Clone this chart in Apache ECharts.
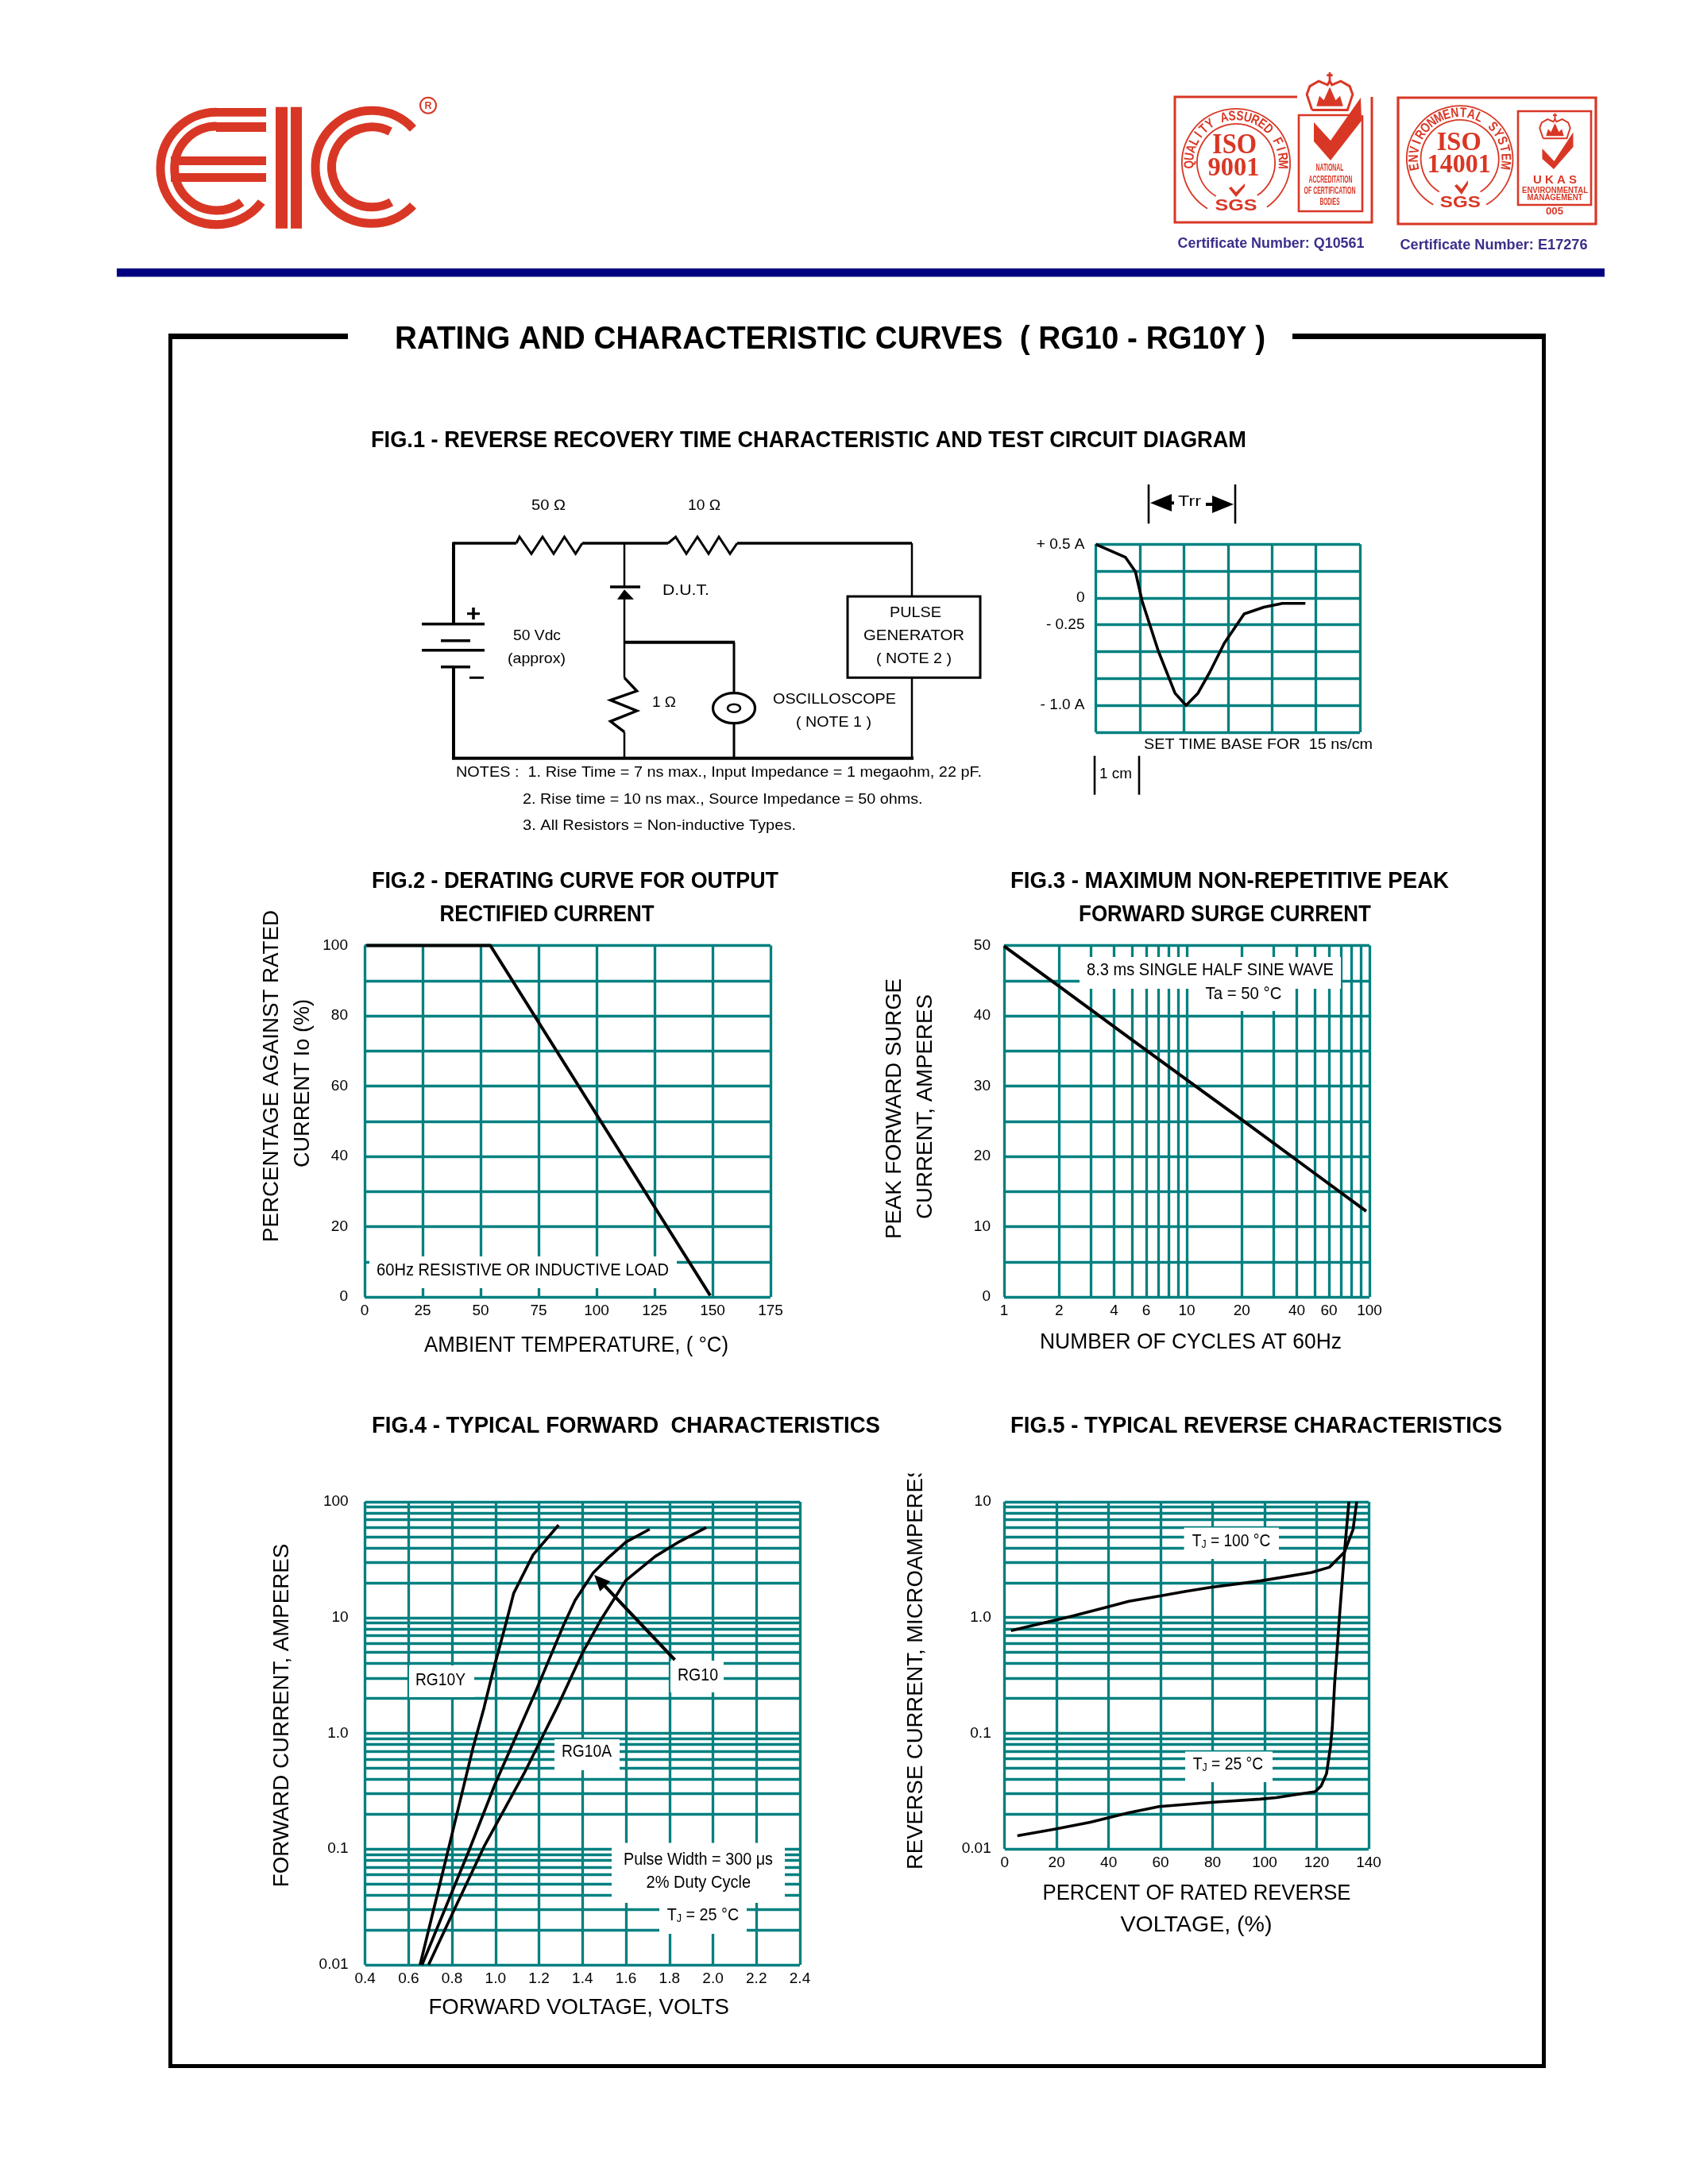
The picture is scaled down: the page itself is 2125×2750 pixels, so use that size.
<!DOCTYPE html>
<html><head><meta charset="utf-8">
<style>html,body{margin:0;padding:0;background:#fff}#c{width:2125px;height:2750px}</style>
<script src="https://cdn.jsdelivr.net/npm/echarts@6/dist/echarts.min.js"></script>
</head><body><div id="c"></div>
<script>
// ---------- DATA ----------
const scopeTime   = [0,0.67,0.90,1.05,1.42,1.80,2.05,2.32,2.59,2.92,3.37,3.82,4.24,4.76];
const scopeAmp    = [0.5,0.38,0.245,-0.026,-0.494,-0.887,-1.0,-0.887,-0.69,-0.42,-0.148,-0.086,-0.05,-0.05];
const scopeTickLabels = {'0.5':'+ 0.5 A','0':'0','-0.25':'- 0.25','-1':'- 1.0 A'};

const fig2Temp    = [0.8,54.2,149];
const fig2Percent = [100,100,0.4];

const fig3Cycles  = [1,2,5,10,20,50,96];
const fig3Current = [49.9,44.2,36.6,30.9,25.2,17.6,12.2];
const fig3XGrid   = [1,2,3,4,5,6,7,8,9,10,20,30,40,50,60,70,80,90,100];
const fig3XLabels = [1,2,4,6,10,20,40,60,100];

const fig4YGrid   = [0.01,0.02,0.03,0.04,0.05,0.06,0.07,0.08,0.09,0.1,0.2,0.3,0.4,0.5,0.6,0.7,0.8,0.9,1,2,3,4,5,6,7,8,9,10,20,30,40,50,60,70,80,90,100];
const fig4YLabels = [0.01,0.1,1,10,100];
const rg10yV = [0.653,0.786,0.896,0.947,0.988,1.047,1.084,1.173,1.29];
const rg10yI = [0.01,0.105,0.745,1.66,3.42,8.79,16.3,34.9,63];
const rg10V  = [0.662,0.879,0.997,1.181,1.315,1.366,1.449,1.516,1.6,1.709];
const rg10I  = [0.01,0.098,0.361,2.21,8.79,14.1,24.3,32.5,45,58];
const rg10aV = [0.692,0.812,0.947,1.131,1.282,1.399,1.483,1.6,1.734,1.843,1.969];
const rg10aI = [0.01,0.0305,0.105,0.449,1.66,4.92,9.46,21,33.7,45,60];

const fig5YGrid   = [0.01,0.02,0.03,0.04,0.05,0.06,0.07,0.08,0.09,0.1,0.2,0.3,0.4,0.5,0.6,0.7,0.8,0.9,1,2,3,4,5,6,7,8,9,10];
const fig5YLabels = [0.01,0.1,1,10];
const tj100Pct = [2.45,17.9,24.7,38.3,47.8,59.4,69.7,79.2,98.3,118,124.9,130.7,134,135.4];
const tj100I   = [0.77,0.929,1.01,1.21,1.38,1.53,1.68,1.82,2.07,2.45,2.72,3.68,5.77,10];
const tj25Pct  = [4.9,19.2,32.9,47.8,59.4,79.2,98.3,104.4,119.4,121.7,123.8,125.3,126,126.9,129,130.7,132.4];
const tj25I    = [0.013,0.0148,0.017,0.0205,0.0232,0.0252,0.0269,0.0277,0.0312,0.0349,0.0448,0.0762,0.111,0.266,1.19,3.68,10];

// ---------- HELPERS ----------
const TEAL='#008080', RED='#d93725', NAVY='#000080', CERT='#3a2f8c', FONT='"Liberation Sans", Arial, sans-serif', SERIF='"Liberation Serif", serif';
const zip=(a,b)=>a.map((v,i)=>[v,b[i]]);
const ctx=document.createElement('canvas').getContext('2d');
const G=[];
function T(text,cx,cy,size,width,o){
  o=o||{};
  const weight=o.weight||'normal', family=o.family||FONT, style=o.fontStyle||'normal';
  ctx.font=`${style} ${weight} ${size}px ${family}`;
  const m=ctx.measureText(o.plain||text).width;
  const sx=width?width/m:1;
  const st={text,fontFamily:family,fontSize:size,fontWeight:weight,fontStyle:style,fill:o.fill||'#000',align:'center',verticalAlign:'middle'};
  if(o.rich) st.rich=o.rich;
  G.push({type:'text',x:cx,y:cy,scaleX:sx,rotation:o.rot||0,z:o.z||20,silent:true,style:st});
}
function L(x1,y1,x2,y2,w,c,z){G.push({type:'line',z:z||10,silent:true,shape:{x1,y1,x2,y2},style:{stroke:c||'#000',lineWidth:w||3}});}
function P(points,w,c,z){G.push({type:'polyline',z:z||10,silent:true,shape:{points},style:{stroke:c||'#000',lineWidth:w||3,fill:'none',lineJoin:'miter'}});}
function F(points,c,z){G.push({type:'polygon',z:z||10,silent:true,shape:{points},style:{fill:c||'#000'}});}
function R(x,y,w,h,c,z){G.push({type:'rect',z:z||10,silent:true,shape:{x,y,width:w,height:h},style:{fill:c||'#000'}});}
function Box(x,y,w,h,lw,c,z){G.push({type:'rect',z:z||10,silent:true,shape:{x,y,width:w,height:h},style:{fill:'none',stroke:c||'#000',lineWidth:lw}});}
function A(cx,cy,r,s,e,cw,lw,c){G.push({type:'arc',z:10,silent:true,shape:{cx,cy,r,startAngle:s*Math.PI/180,endAngle:e*Math.PI/180,clockwise:cw},style:{stroke:c||'#000',lineWidth:lw,fill:'none',lineCap:'butt'}});}
function RingText(text,cx,cy,r,from,to,size,c){
  const n=text.length;
  for(let i=0;i<n;i++){
    const th=(from+(to-from)*i/(n-1))*Math.PI/180;
    G.push({type:'text',z:20,silent:true,x:cx+r*Math.sin(th),y:cy-r*Math.cos(th),rotation:-th,scaleX:0.8,
      style:{text:text[i],fontFamily:FONT,fontWeight:'bold',fontSize:size,fill:c||RED,align:'center',verticalAlign:'middle'}});
  }
}
function Crown(cx,cy,s){
  const p=(pts)=>pts.map(q=>[cx+q[0]*s,cy+q[1]*s]);
  P(p([[-24,23],[-31,2],[-27,-9],[-15,-16],[-3,-11],[0,-16],[3,-11],[15,-16],[27,-9],[31,2],[24,23],[-24,23]]),3.2*s,RED);
  L(cx,cy-28*s,cx,cy-14*s,3*s,RED);L(cx-4*s,cy-24*s,cx+4*s,cy-24*s,3*s,RED);
  F(p([[-18,18],[-14,4],[-8,10],[0,-8],[8,10],[14,4],[18,18]]),RED);
}

// ---------- PAGE FURNITURE ----------
// EIC logo
A(272.7,212,70.7,-90,-323,false,11,RED);
A(272.7,212,53,-90,-306.6,false,11,RED);
R(272,136,63,10.7,RED);R(272,154,63,12,RED);R(215,197,120,11,RED);R(215,218,120,11,RED);
R(347,134.7,15,153,RED);R(366,134.7,14,153,RED);
A(468,210.3,71,-43,-317,false,11,RED);
A(468,210.3,50.5,-62.5,-299,false,11,RED);
G.push({type:'circle',z:10,silent:true,shape:{cx:539,cy:132.7,r:10},style:{fill:'none',stroke:RED,lineWidth:2}});
T('R',539,133,13,9,{fill:RED,weight:'bold'});

// ISO 9001
P([[1633,122],[1479,122],[1479,280],[1727,280],[1727,122]],3,RED);
P([[1700,145],[1635,145],[1635,266],[1715,266],[1715,145]],2.6,RED);
Crown(1674,117,0.93);
F([[1654,154],[1675,177],[1713,123],[1714,152],[1675,202],[1654,178]],RED);
A(1556,205,68,122,415,true,1.8,RED);
A(1556,205,49,121,417,true,1.8,RED);
RingText('QUALITY ASSURED FIRM',1556,205,58.5,-92,92,17);
T('ISO',1554,184,36,56,{family:SERIF,fill:RED,weight:'bold'});
T('9001',1553,212.5,34,65,{family:SERIF,fill:RED,weight:'bold'});
F([[1547,237],[1550,235],[1556,242],[1567,231],[1567,235],[1556,248]],RED);
T('SGS',1556,259,21,53,{fill:RED,weight:'bold'});
T('NATIONAL',1674,211.7,12,35,{fill:RED,weight:'bold'});
T('ACCREDITATION',1675,226.7,12,55,{fill:RED,weight:'bold'});
T('OF CERTIFICATION',1674,240.7,12,65,{fill:RED,weight:'bold'});
T('BODIES',1674,255,12,25,{fill:RED,weight:'bold'});
T('Certificate Number: Q10561',1600,306.7,18,235,{fill:CERT,weight:'bold'});

// ISO 14001
Box(1760,123,249,159,3.2,RED);
Box(1911,140,92,118,2.6,RED);
Crown(1957.5,160,0.62);
F([[1941.5,187],[1956.5,203],[1980.5,166.5],[1980.5,185],[1956,213],[1941.5,200]],RED);
A(1837.7,200,66.7,120,420,true,1.8,RED);
A(1837.7,200,49,122,418,true,1.8,RED);
RingText('ENVIRONMENTAL SYSTEM',1837.7,200,57.5,-100,98,17);
T('ISO',1836.7,180.5,34,56,{family:SERIF,fill:RED,weight:'bold'});
T('14001',1836.7,208.5,34,80,{family:SERIF,fill:RED,weight:'bold'});
F([[1831,234],[1834,232],[1840,238],[1848,227],[1848,232],[1840,245]],RED);
T('SGS',1838.3,255,21,51,{fill:RED,weight:'bold'});
T('U K A S',1957.5,226.7,15,55,{fill:RED,weight:'bold'});
T('ENVIRONMENTAL',1957.5,240,11,83,{fill:RED,weight:'bold'});
T('MANAGEMENT',1957.5,249.3,11,70,{fill:RED,weight:'bold'});
T('005',1957,267,12,22,{fill:RED,weight:'bold'});
T('Certificate Number: E17276',1880.5,309,18,236,{fill:CERT,weight:'bold'});

// header rule and frame
R(147,338,1873,10.5,NAVY);
R(212,420,226,7);R(1627,420,318,7);R(212,420,5,2184);R(1941,420,5,2184);R(212,2599,1734,5);
T('RATING AND CHARACTERISTIC CURVES  ( RG10 - RG10Y )',1045,428,40,1096,{weight:'bold'});
T('FIG.1 - REVERSE RECOVERY TIME CHARACTERISTIC AND TEST CIRCUIT DIAGRAM',1018,554.5,29,1102,{weight:'bold'});

// FIG.1 circuit
const W=684, B=954.7;
L(571,W,650,W,3.4);L(733,W,841,W,3.4);L(928,W,1148,W,3.4);
P([[650,W],[654,676],[669,697.3],[683,676],[697,697.3],[710.5,676],[724.6,697.3],[733,W]],3);
P([[841,W],[850.6,676],[864,697.3],[878,676],[892,697.3],[905,676],[919,697.3],[928,W]],3);
L(571,W-1.5,571,785.7,4);L(571,839.7,571,B+1.5,4);L(569,B,1150,B,4);
L(786,W,786,739,2.5);L(786,754,786,853.3,2.5);L(786,921.7,786,B,2.5);
L(768,739,806,739,3.4);F([[786,742.3],[777,754.7],[798,754.7]]);
L(786,808.7,925,808.7,4);L(924,808.7,924,873,3);L(924,910,924,B,3);
L(1148,W,1148,751,2.5);L(1148,853,1148,B,2.5);
Box(1067,751,167,102.3,3);
L(531,785.7,610,785.7,3.6);L(555,806.7,592,806.7,3.6);L(531,818.7,610,818.7,3.6);L(555,839.7,592,839.7,3.6);
L(588,772.7,604,772.7,3);L(596,765,596,780,3.6);L(591,853.3,609,853.3,3);
P([[786,853.3],[801.7,870],[768.5,881.7],[801.7,895],[768.5,908.3],[786,921.7]],3.4);
G.push({type:'ellipse',z:10,silent:true,shape:{cx:924,cy:891.7,rx:26.5,ry:19},style:{fill:'none',stroke:'#000',lineWidth:3.2}});
G.push({type:'ellipse',z:10,silent:true,shape:{cx:924,cy:891.7,rx:8,ry:5},style:{fill:'none',stroke:'#000',lineWidth:2.6}});
const S=19;
T('50 Ω',690.5,636.7,S,43);T('10 Ω',886.5,636.7,S,41);T('D.U.T.',863.5,743.3,S,59);
T('PULSE',1152.5,771.7,S,65);T('GENERATOR',1150.5,800.7,S,127);T('( NOTE 2 )',1150.5,829.3,S,95);
T('50 Vdc',676,801,S,60);T('(approx)',675.5,830,S,73);T('1 Ω',836,885,S,30);
T('OSCILLOSCOPE',1050.5,880.7,S,155);T('( NOTE 1 )',1049.5,910,S,95);
T('NOTES :  1. Rise Time = 7 ns max., Input Impedance = 1 megaohm, 22 pF.',905,972.3,S,662);
T('2. Rise time = 10 ns max., Source Impedance = 50 ohms.',909.8,1006.7,S,503.5);
T('3. All Resistors = Non-inductive Types.',830,1040,S,344);
// Trr markers
L(1446,610,1446,659.3,2.6);L(1555,610,1555,659.3,2.6);
F([[1448,633.3],[1475,622],[1475,644]]);L(1474,633.3,1478,633.3,4);
F([[1553,635],[1526,624],[1526,646]]);L(1518,635,1527,635,4);
T('Trr',1497.5,631.7,S,29);
T('SET TIME BASE FOR  15 ns/cm',1584,937.7,S,288);
L(1378,951.7,1378,1000.7,2.6);L(1434,951.7,1434,1000.7,2.6);T('1 cm',1404.5,975,S,41);

// FIG.2
T('FIG.2 - DERATING CURVE FOR OUTPUT',724,1110,29,512,{weight:'bold'});
T('RECTIFIED CURRENT',688.5,1152,29,270,{weight:'bold'});
R(465,1582,387,40,'#fff',5);
T('60Hz RESISTIVE OR INDUCTIVE LOAD',658,1600,22,368);
T('AMBIENT TEMPERATURE, ( °C)',725.5,1694.5,28,383);
T('PERCENTAGE AGAINST RATED',342,1355,28,418,{rot:Math.PI/2});
T('CURRENT Io (%)',381,1364,28,212,{rot:Math.PI/2});

// FIG.3
T('FIG.3 - MAXIMUM NON-REPETITIVE PEAK',1548,1110,29,552,{weight:'bold'});
T('FORWARD SURGE CURRENT',1542,1152,29,368,{weight:'bold'});
R(1359,1205,329,40,'#fff',5);R(1502,1245,114,28,'#fff',5);
T('8.3 ms SINGLE HALF SINE WAVE',1523.5,1222,22,311);
T('Ta = 50 °C',1565.5,1251.5,22,96);
T('NUMBER OF CYCLES AT 60Hz',1499,1690,28,380);
T('PEAK FORWARD SURGE',1126,1396,28,328,{rot:Math.PI/2});
T('CURRENT, AMPERES',1165.5,1393.5,28,283,{rot:Math.PI/2});

// FIG.4
const tj=(n)=>({text:`{a|T}{b|J}{a| = ${n} °C}`,plain:`TJ = ${n} °C`});
const richT={a:{fontFamily:FONT,fontSize:22,fill:'#000'},b:{fontFamily:FONT,fontSize:14,fill:'#000',verticalAlign:'bottom',padding:[8,0,0,0]}};
T('FIG.4 - TYPICAL FORWARD  CHARACTERISTICS',788,1795.5,29,640,{weight:'bold'});
R(515,2097,82,40,'#fff',5);R(844,2091,67,40,'#fff',5);R(698,2190,82,39,'#fff',5);R(770,2320.5,218,75.5,'#fff',5);R(830,2396,110,39,'#fff',5);
T('RG10Y',554.5,2116,22,63);T('RG10',878.5,2110,22,51);T('RG10A',738.5,2206,22,63);
T('Pulse Width = 300 μs',879,2342,22,188);T('2% Duty Cycle',879.3,2371,22,131.5);
T(tj(25).text,885,2412,22,94,{plain:tj(25).plain,rich:richT});
T('FORWARD VOLTAGE, VOLTS',728.7,2528,28,378.5);
T('FORWARD CURRENT, AMPERES',355.5,2160,28,432.5,{rot:Math.PI/2});
L(849.5,2090,760,1995.5,4);F([[748,1983],[768.3,1991.3],[755.3,2003.7]],'#000',20);

// FIG.5
T('FIG.5 - TYPICAL REVERSE CHARACTERISTICS',1581.5,1795.5,29,619,{weight:'bold'});
R(1490.6,1923.6,119.4,39.4,'#fff',5);R(1492,2205.5,110,38.5,'#fff',5);
T(tj(100).text,1550,1941,22,102,{plain:tj(100).plain,rich:richT});
T(tj(25).text,1546,2222,22,92,{plain:tj(25).plain,rich:richT});
T('PERCENT OF RATED REVERSE',1506.5,2384.6,28,388);
T('VOLTAGE, (%)',1506,2424,28,191);
T('REVERSE CURRENT, MICROAMPERES',1153,2098.5,28,511,{rot:Math.PI/2});
R(1130,1830,44,25.5,'#fff',25);

// ---------- CHART ----------
const tick=(s)=>({fontFamily:FONT,fontSize:19,color:'#000',...s});
const sl=(w)=>({show:true,lineStyle:{color:TEAL,width:w||3.3}});
const off={show:false};
const near=(a,b)=>Math.abs(a-b)<1e-6*Math.max(Math.abs(a),Math.abs(b),1e-9);
const logFmt=(v)=>{for(const [k,t] of [[0.01,'0.01'],[0.1,'0.1'],[1,'1.0'],[10,'10'],[100,'100']]) if(near(v,k)) return t;return '';};
const grids=[
 {left:1379.5,top:685.3,width:332.5,height:236.7},
 {left:459,top:1190.5,width:511,height:442.5},
 {left:1264,top:1190.5,width:460,height:442.5},
 {left:459.6,top:1891,width:547.4,height:583},
 {left:1264.7,top:1891,width:458.3,height:437}
];
const xAxis=[
 {gridIndex:0,type:'value',min:0,max:6,interval:1,axisLine:off,axisTick:off,axisLabel:off,splitLine:sl()},
 {gridIndex:1,type:'value',min:0,max:175,interval:25,axisLine:off,axisTick:off,axisLabel:tick({margin:8}),splitLine:sl()},
 {gridIndex:2,type:'log',logBase:10,min:1,max:100,axisLine:off,axisTick:{show:false,customValues:fig3XGrid},axisLabel:tick({margin:8,customValues:fig3XLabels,formatter:v=>String(Math.round(v))}),splitLine:sl(),minorSplitLine:off},
 {gridIndex:3,type:'value',min:0.4,max:2.4,interval:0.2,axisLine:off,axisTick:off,axisLabel:tick({margin:8,formatter:v=>v.toFixed(1)}),splitLine:sl()},
 {gridIndex:4,type:'value',min:0,max:140,interval:20,axisLine:off,axisTick:off,axisLabel:tick({margin:8}),splitLine:sl()}
];
const yAxis=[
 {gridIndex:0,type:'value',min:-1.25,max:0.5,interval:0.25,axisLine:off,axisTick:off,axisLabel:tick({margin:14,formatter:v=>scopeTickLabels[String(v)]||''}),splitLine:sl()},
 {gridIndex:1,type:'value',min:0,max:100,interval:10,axisLine:off,axisTick:off,axisLabel:tick({margin:21,formatter:v=>v%20===0?String(v):''}),splitLine:sl()},
 {gridIndex:2,type:'value',min:0,max:50,interval:5,axisLine:off,axisTick:off,axisLabel:tick({margin:17,formatter:v=>v%10===0?String(v):''}),splitLine:sl()},
 {gridIndex:3,type:'log',logBase:10,min:0.01,max:100,axisLine:off,axisTick:{show:false,customValues:fig4YGrid},axisLabel:tick({margin:21,customValues:fig4YLabels,formatter:logFmt}),splitLine:sl()},
 {gridIndex:4,type:'log',logBase:10,min:0.01,max:10,axisLine:off,axisTick:{show:false,customValues:fig5YGrid},axisLabel:tick({margin:17,customValues:fig5YLabels,formatter:logFmt}),splitLine:sl()}
];
const line=(name,i,x,y,w)=>({name,type:'line',xAxisIndex:i,yAxisIndex:i,data:zip(x,y),showSymbol:false,symbol:'none',z:8,clip:false,animation:false,lineStyle:{color:'#000',width:w||4,join:'round'},silent:true});
const chart=echarts.init(document.getElementById('c'),null,{renderer:'canvas',width:2125,height:2750});
chart.setOption({
 animation:false,backgroundColor:'#fff',
 grid:grids,xAxis,yAxis,
 series:[
  line('Trr waveform',0,scopeTime,scopeAmp,3.6),
  line('Derating',1,fig2Temp,fig2Percent,4),
  line('Surge',2,fig3Cycles,fig3Current,4),
  line('RG10Y',3,rg10yV,rg10yI,3.6),
  line('RG10',3,rg10V,rg10I,3.6),
  line('RG10A',3,rg10aV,rg10aI,3.6),
  line('TJ = 100 °C',4,tj100Pct,tj100I,3.6),
  line('TJ = 25 °C',4,tj25Pct,tj25I,3.6)
 ],
 graphic:{elements:G}
});
</script></body></html>
